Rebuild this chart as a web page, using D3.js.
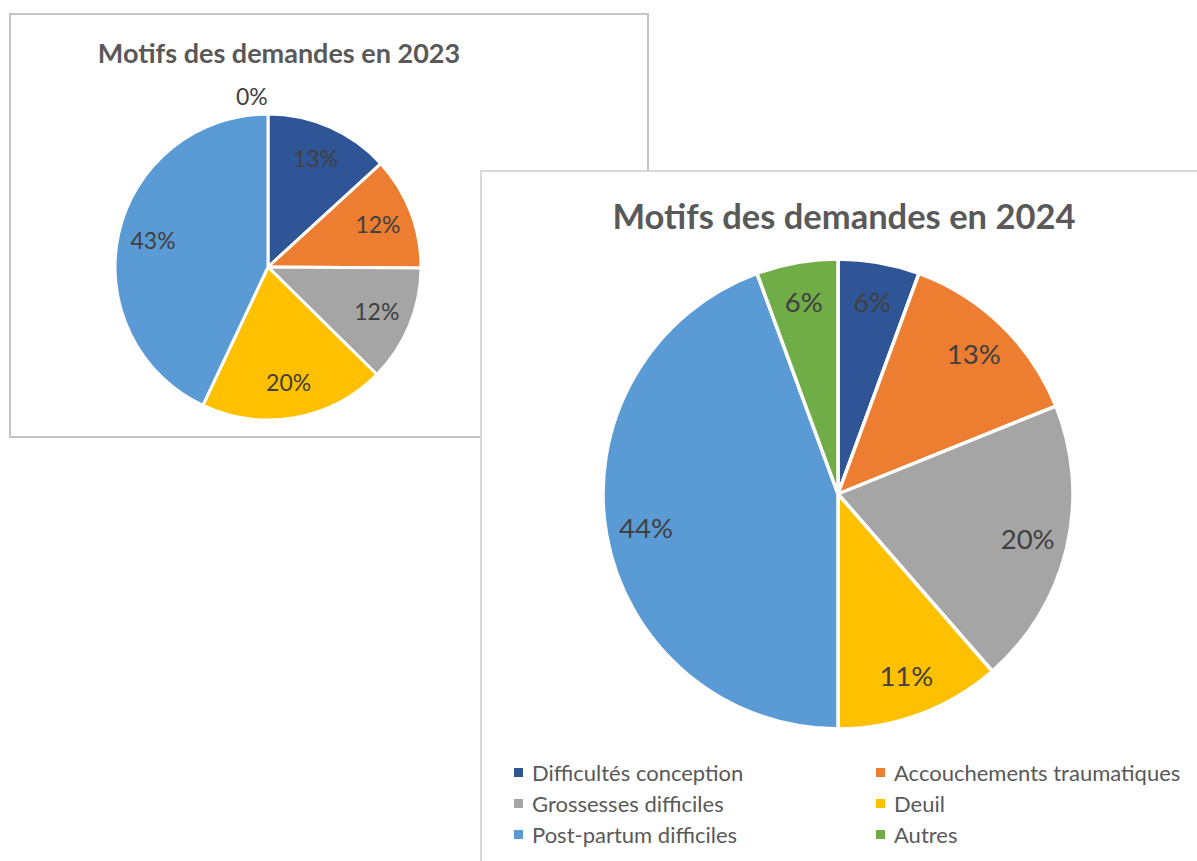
<!DOCTYPE html>
<html>
<head>
<meta charset="utf-8">
<script src="https://cdn.jsdelivr.net/npm/d3@7"></script>
<style>
  body { margin: 0; background: #fff; }
  text { font-family: Lato, "Open Sans", sans-serif; }
</style>
</head>
<body>
<svg width="1197" height="861"></svg>
<script>
const categories = ["Difficultés conception", "Accouchements traumatiques", "Grossesses difficiles", "Deuil", "Post-partum difficiles", "Autres"];
const colors = ["#2F5597", "#ED7D31", "#A5A5A5", "#FFC000", "#5B9BD5", "#70AD47"];
const values2023 = [13.2, 11.9, 12.3, 19.6, 43.0, 0];
const values2024 = [5.6, 13.3, 19.7, 11.4, 44.4, 5.6];

const svg = d3.select("svg");
const color = d3.scaleOrdinal().domain(categories).range(colors);
const pct = d3.format(".0f");

function drawPie(g, values, cx, cy, r, labelR, fontSize, strokeW) {
  const data = categories.map((c, i) => ({cat: c, value: values[i]}));
  const total = d3.sum(values);
  const pie = d3.pie().value(d => d.value).sort(null);
  const arcs = pie(data);
  const arc = d3.arc().innerRadius(0).outerRadius(r);
  const labelArc = d3.arc().innerRadius(r * labelR).outerRadius(r * labelR);
  const pg = g.append("g").attr("transform", "translate(" + cx + "," + cy + ")");
  pg.selectAll("path")
    .data(arcs.filter(d => d.value > 0))
    .enter().append("path")
    .attr("d", arc)
    .attr("fill", d => color(d.data.cat))
    .attr("stroke", "#fff")
    .attr("stroke-width", strokeW)
    .attr("stroke-linejoin", "round");
  pg.selectAll("text.lbl")
    .data(arcs)
    .enter().append("text")
    .attr("class", "lbl")
    .attr("transform", d => {
      if (d.value === 0) {
        // empty slice: label sits just outside the rim
        const a = d.startAngle;
        return "translate(" + (Math.sin(a) * r * 1.1 - fontSize * 0.7) + "," + (-Math.cos(a) * r * 1.11) + ")";
      }
      return "translate(" + labelArc.centroid(d) + ")";
    })
    .attr("text-anchor", "middle")
    .attr("dy", "0.35em")
    .attr("font-size", fontSize + "px")
    .attr("fill", "#404040")
    .text(d => pct(d.value / total * 100) + "%");
}

// panel 2023
const p1 = svg.append("g");
p1.append("rect").attr("x", 10).attr("y", 14).attr("width", 638).attr("height", 423)
  .attr("fill", "#fff").attr("stroke", "#c4c4c4").attr("stroke-width", 2);
p1.append("text").attr("x", 279).attr("y", 63).attr("text-anchor", "middle")
  .attr("font-size", "27px").attr("font-weight", "bold").attr("fill", "#595959")
  .text("Motifs des demandes en 2023");
drawPie(p1, values2023, 268, 267, 153, 0.77, 23, 3);

// panel 2024
const p2 = svg.append("g");
p2.append("rect").attr("x", 481).attr("y", 171).attr("width", 740).attr("height", 720)
  .attr("fill", "#fff").attr("stroke", "#d9d9d9").attr("stroke-width", 2);
p2.append("text").attr("x", 844).attr("y", 229).attr("text-anchor", "middle")
  .attr("font-size", "34.5px").attr("font-weight", "bold").attr("fill", "#595959")
  .text("Motifs des demandes en 2024");
drawPie(p2, values2024, 838, 494, 235, 0.83, 27.5, 3.5);

// legend
const legend = p2.append("g");
const item = legend.selectAll("g.item")
  .data(categories)
  .enter().append("g")
  .attr("class", "item")
  .attr("transform", (d, i) => "translate(" + (i % 2 === 0 ? 514 : 876) + "," + (773 + Math.floor(i / 2) * 31) + ")");
item.append("rect").attr("x", 0).attr("y", -5).attr("width", 9).attr("height", 9)
  .attr("fill", d => color(d));
item.append("text").attr("x", 18).attr("dy", "0.35em")
  .attr("font-size", "22px").attr("fill", "#595959")
  .text(d => d);
</script>
</body>
</html>
